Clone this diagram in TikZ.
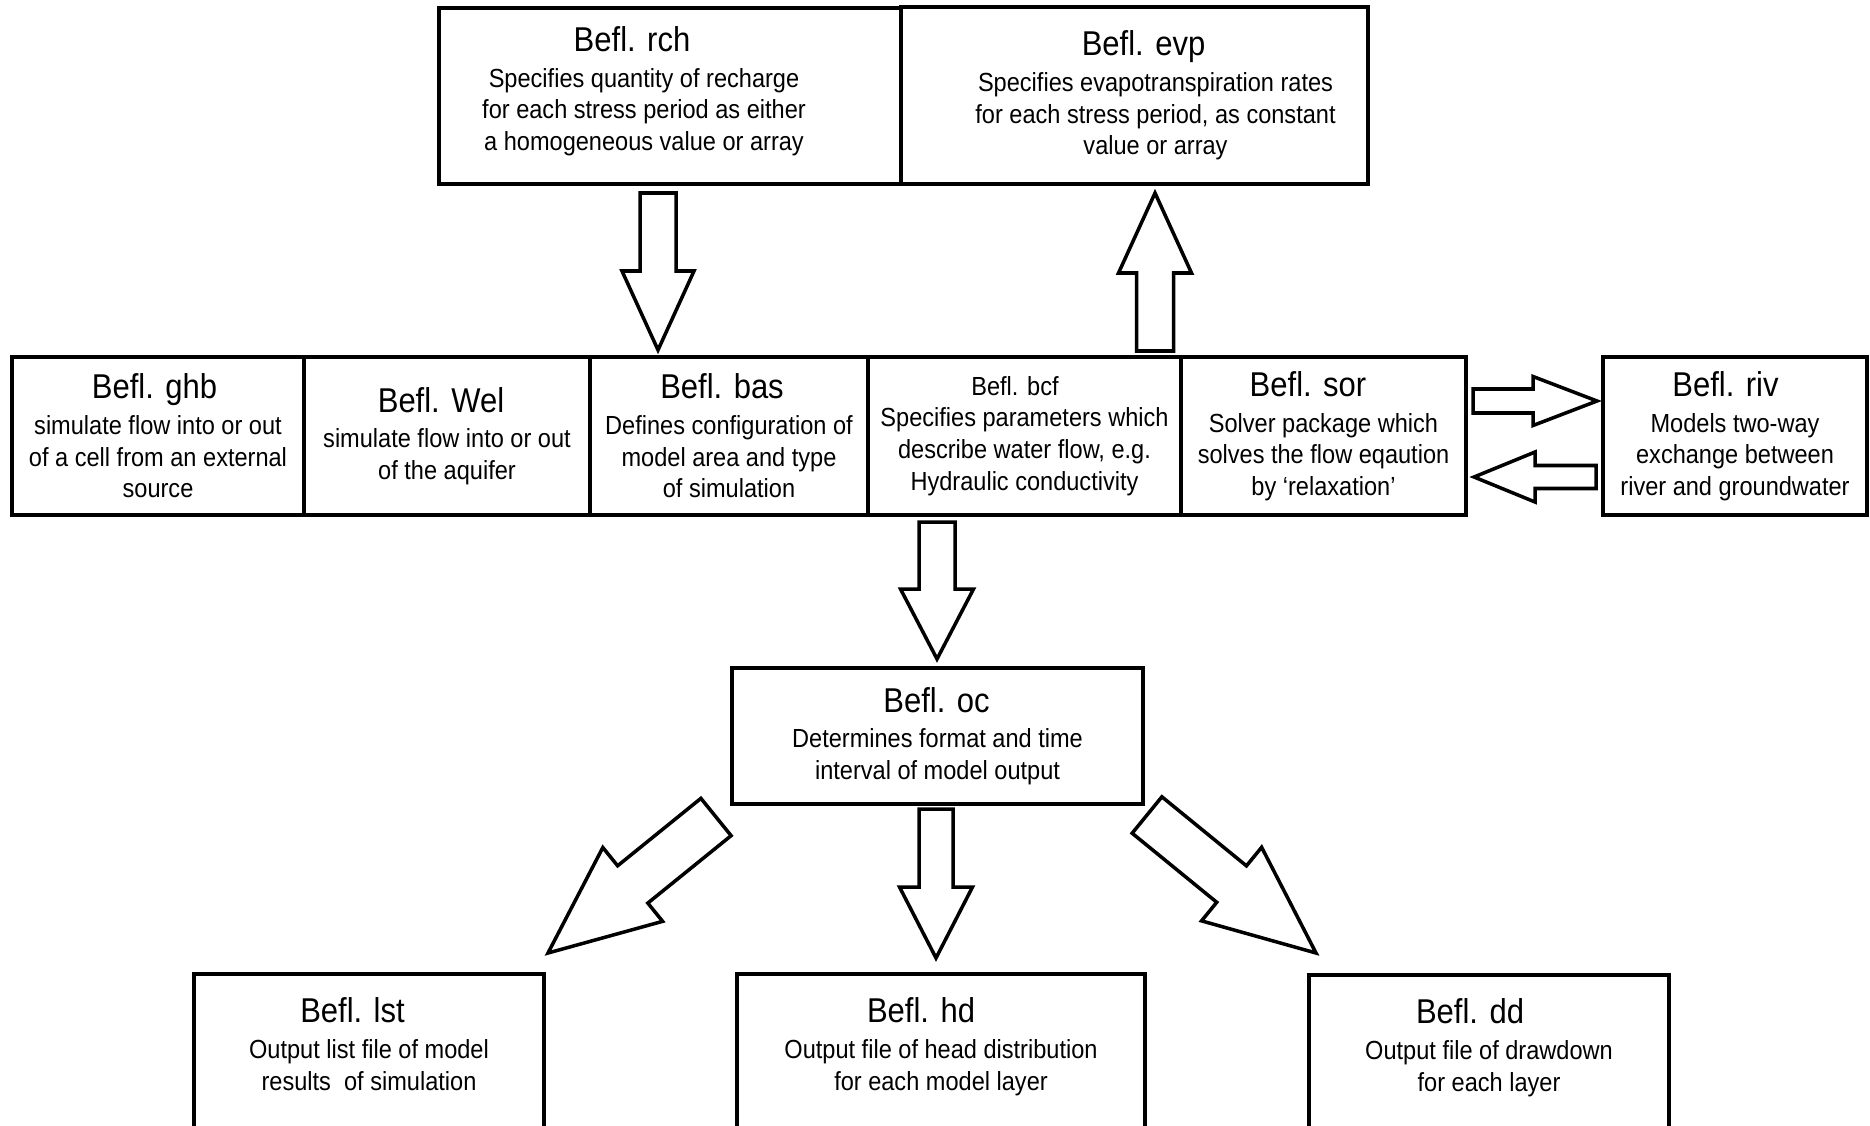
\documentclass[tikz,border=0pt]{standalone}
\usepackage{fontspec}
\setmainfont{Liberation Sans}[FakeStretch=0.9]
\usetikzlibrary{calc}
\def\body{\fontsize{7.45}{9}\selectfont}
\newcommand\btitle[2][2.4mm]{{\fontsize{9.8}{9}\selectfont\hspace*{-#1}#2}\\[1.2pt]}

\begin{document}
\begin{tikzpicture}[x=0.1mm, y=-0.1mm,
    txt/.style={inner sep=0pt, align=center, font=\body},
    box/.style={txt, draw, line width=1pt, outer sep=0pt},
    mid/.style={box, minimum height=15.8mm},
    outbox/.style={box, anchor=north, inner ysep=2.4mm, text depth=25mm},
    fat/.style n args={3}{draw, fill=white, line width=1pt, line join=miter,
      to path={
        ($(\tikztostart)!#1!90:(\tikztotarget)$)
        -- ($(\tikztotarget)!#3!(\tikztostart)!#1!-90:(\tikztostart)$)
        -- ($(\tikztotarget)!#3!(\tikztostart)!#2!-90:(\tikztostart)$)
        -- (\tikztotarget)
        -- ($(\tikztotarget)!#3!(\tikztostart)!#2!90:(\tikztostart)$)
        -- ($(\tikztotarget)!#3!(\tikztostart)!#1!90:(\tikztostart)$)
        -- ($(\tikztostart)!#1!-90:(\tikztotarget)$)
        -- cycle}}]
\useasboundingbox (0,0) rectangle (1870,1125);

% top row
\node[box, minimum width=46.2mm, minimum height=17.6mm,
  label={[txt, xshift=-2.6mm, yshift=0.5mm]center:{\btitle{Befl. rch}Specifies quantity of recharge\\for each stress period as either\\a homogeneous value or array}}]
  (rch) at (670,96) {};
\node[box, minimum width=46.7mm, minimum height=17.7mm,
  label={[txt, xshift=2.1mm]center:{\btitle{Befl. evp}Specifies evapotranspiration rates\\for each stress period, as constant\\value or array}}]
  (evp) at (1134.5,95.5) {};

% middle row
\node[mid, minimum width=29.2mm] (ghb) at (158,436)
  {\btitle[0.7mm]{Befl. ghb}simulate flow into or out\\of a cell from an external\\source};
\node[mid, minimum width=28.6mm] (wel) at (447,436)
  {\btitle[1.2mm]{Befl. Wel}simulate flow into or out\\of the aquifer};
\node[mid, minimum width=27.8mm] (bas) at (729,436)
  {\btitle[1.4mm]{Befl. bas}Defines configuration of\\model area and type\\of simulation};
\node[mid, minimum width=31.3mm] (bcf) at (1024.5,436)
  {\hspace*{-1.9mm}Befl. bcf\\Specifies parameters which\\describe water flow, e.g.\\Hydraulic conductivity};
\node[mid, minimum width=28.5mm] (sor) at (1323.5,436)
  {\btitle[3.1mm]{Befl. sor}Solver package which\\solves the flow eqaution\\by ‘relaxation’};
\node[mid, minimum width=26.4mm] (riv) at (1735,436)
  {\btitle[1.9mm]{Befl. riv}Models two-way\\exchange between\\river and groundwater};

% output control
\node[box, minimum width=41.1mm, minimum height=13.6mm] (oc) at (937.5,736)
  {\btitle[0.2mm]{Befl. oc}Determines format and time\\interval of model output};

% bottom row
\node[outbox, minimum width=35mm] (lst) at (369,974)
  {\btitle[3.3mm]{Befl. lst}Output list file of model\\results\ \ of simulation};
\node[outbox, minimum width=40.8mm] (hd) at (941,974)
  {\btitle[4mm]{Befl. hd}Output file of head distribution\\for each model layer};
\node[outbox, minimum width=36mm] (dd) at (1489,975)
  {\btitle[3.8mm]{Befl. dd}Output file of drawdown\\for each layer};

% arrow ends
\coordinate (rch1) at (658,193);   \coordinate (rch2) at (658,350);
\coordinate (evp1) at (1155,351);  \coordinate (evp2) at (1155,193);
\coordinate (bcf1) at (937,522);   \coordinate (bcf2) at (937,659);
\coordinate (riv1) at (1473,401);  \coordinate (riv2) at (1597,401);
\coordinate (sor1) at (1596,477);  \coordinate (sor2) at (1474,477);
\coordinate (lst1) at (716,817);   \coordinate (lst2) at (548,953);
\coordinate (hd1)  at (936,809);   \coordinate (hd2)  at (936,958);
\coordinate (dd1)  at (1147,815);  \coordinate (dd2)  at (1316,953);

\draw[fat={1.8mm}{3.6mm}{7.9mm}]    (rch1) to (rch2);
\draw[fat={1.85mm}{3.65mm}{8mm}]    (evp1) to (evp2);
\draw[fat={1.8mm}{3.65mm}{7mm}]     (bcf1) to (bcf2);
\draw[fat={1.2mm}{2.45mm}{6.4mm}]   (riv1) to (riv2);
\draw[fat={1.15mm}{2.5mm}{6.1mm}]   (sor1) to (sor2);
\draw[fat={2.4mm}{4.75mm}{10.9mm}]  (lst1) to (lst2);
\draw[fat={1.7mm}{3.65mm}{7.1mm}]   (hd1) to (hd2);
\draw[fat={2.35mm}{4.75mm}{10.9mm}] (dd1) to (dd2);
\end{tikzpicture}
\end{document}
